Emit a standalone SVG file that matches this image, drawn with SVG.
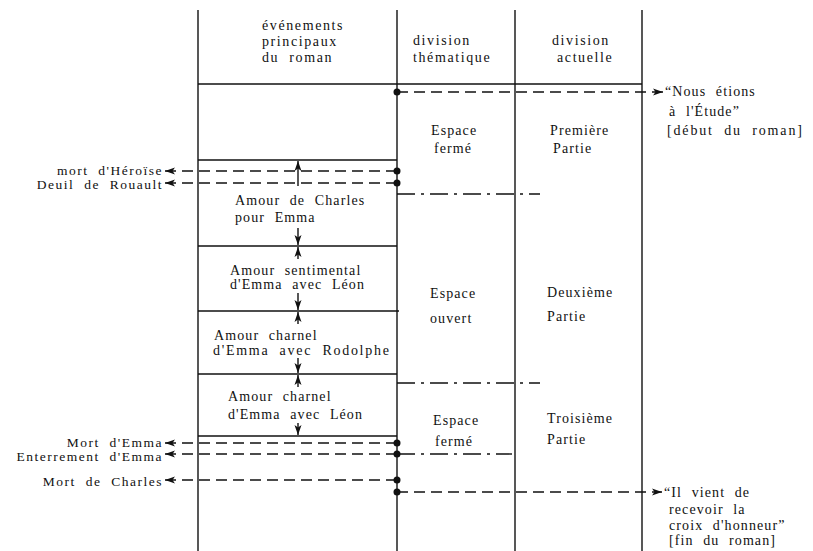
<svg xmlns="http://www.w3.org/2000/svg" width="813" height="551" viewBox="0 0 813 551">
<style>
text{font-family:"Liberation Serif","DejaVu Serif",serif;font-size:14px;fill:#111;word-spacing:5px;letter-spacing:1.1px}
.hd{letter-spacing:1.6px}
.lbl{font-size:13.5px;letter-spacing:1.5px;text-anchor:end}
.rule{stroke:#111;stroke-width:1.4;fill:none}
.dash{stroke:#111;stroke-width:1.4;fill:none;stroke-dasharray:11 6}
.dashdot{stroke:#111;stroke-width:1.4;fill:none;stroke-dasharray:18 6 3 6}
.dot{fill:#111}
</style>
<defs>
<marker id="ah" viewBox="0 0 10 10" refX="10" refY="5" markerWidth="10" markerHeight="10" markerUnits="userSpaceOnUse" orient="auto">
<path d="M0,1.5 L10,5 L0,8.5 L2.5,5 Z" fill="#111"/>
</marker>
</defs>

<g id="table">
<line class="rule" x1="198" y1="10" x2="198" y2="551"/>
<line class="rule" x1="397" y1="10" x2="397" y2="551"/>
<line class="rule" x1="515" y1="10" x2="515" y2="551"/>
<line class="rule" x1="642" y1="10" x2="642" y2="551"/>
<line class="rule" x1="198" y1="84" x2="642" y2="84"/>
</g>

<g id="header">
<text class="hd" x="262" y="30">événements</text>
<text class="hd" x="262" y="46">principaux</text>
<text class="hd" x="262" y="62">du roman</text>
<text class="hd" x="413" y="45">division</text>
<text class="hd" x="413" y="62">thématique</text>
<text class="hd" x="552" y="45">division</text>
<text class="hd" x="557" y="62">actuelle</text>
</g>

<g id="ev-charles">
<line class="rule" x1="198" y1="160" x2="397" y2="160"/>
<text x="235" y="205">Amour de Charles</text>
<text x="235" y="222">pour Emma</text>
</g>
<g id="ev-sentimental">
<line class="rule" x1="198" y1="246" x2="397" y2="246"/>
<text x="230" y="275">Amour sentimental</text>
<text x="230" y="289">d'Emma avec Léon</text>
</g>
<g id="ev-rodolphe">
<line class="rule" x1="198" y1="311" x2="399" y2="311"/>
<text x="214" y="340">Amour charnel</text>
<text x="213" y="355" textLength="177">d'Emma avec Rodolphe</text>
</g>
<g id="ev-leon">
<line class="rule" x1="198" y1="374" x2="397" y2="374"/>
<text x="228" y="401">Amour charnel</text>
<text x="228" y="419">d'Emma avec Léon</text>
<line class="rule" x1="198" y1="436" x2="397" y2="436"/>
</g>

<g id="theme">
<text x="431" y="135">Espace</text>
<text x="434" y="153">fermé</text>
<text x="430" y="298">Espace</text>
<text x="430" y="323">ouvert</text>
<text x="433" y="425">Espace</text>
<text x="435" y="446">fermé</text>
</g>
<g id="parts">
<text x="550" y="135">Première</text>
<text x="553" y="153">Partie</text>
<text x="547" y="297">Deuxième</text>
<text x="547" y="321">Partie</text>
<text x="547" y="423">Troisième</text>
<text x="547" y="444">Partie</text>
</g>

<g id="left-labels">
<text class="lbl" x="163" y="175">mort d'Héroïse</text>
<text class="lbl" x="163" y="189">Deuil de Rouault</text>
<text class="lbl" x="163" y="447">Mort d'Emma</text>
<text class="lbl" x="163" y="461">Enterrement d'Emma</text>
<text class="lbl" x="163" y="486">Mort de Charles</text>
</g>

<g id="right-labels">
<text x="665" y="96">“Nous étions</text>
<text x="669" y="116">à l'Étude”</text>
<text x="667" y="135" textLength="136">[début du roman]</text>
<text x="664" y="497">“Il vient de</text>
<text x="669" y="514">recevoir la</text>
<text x="669" y="530">croix d'honneur”</text>
<text x="669" y="545">[fin du roman]</text>
</g>

<g id="connectors">
<line class="dash" x1="397" y1="92" x2="663" y2="92" marker-end="url(#ah)"/>
<line class="dash" x1="397" y1="171" x2="165" y2="171" marker-end="url(#ah)"/>
<line class="dash" x1="397" y1="183" x2="165" y2="183" marker-end="url(#ah)"/>
<line class="dashdot" x1="397" y1="194" x2="540" y2="194"/>
<line class="dashdot" x1="397" y1="383" x2="540" y2="383"/>
<line class="dash" x1="397" y1="443" x2="165" y2="443" marker-end="url(#ah)"/>
<line class="dash" x1="397" y1="454" x2="165" y2="454" marker-end="url(#ah)"/>
<line class="dashdot" x1="397" y1="454" x2="512" y2="454"/>
<line class="dash" x1="397" y1="480" x2="165" y2="480" marker-end="url(#ah)"/>
<line class="dash" x1="397" y1="492" x2="662" y2="492" marker-end="url(#ah)"/>
<circle class="dot" cx="397" cy="92" r="3.5"/>
<circle class="dot" cx="397" cy="171" r="3.5"/>
<circle class="dot" cx="397" cy="183" r="3.5"/>
<circle class="dot" cx="397" cy="443" r="3.5"/>
<circle class="dot" cx="397" cy="454" r="3.5"/>
<circle class="dot" cx="397" cy="480" r="3.5"/>
<circle class="dot" cx="397" cy="492" r="3.5"/>
<line class="rule" x1="298" y1="186" x2="298" y2="161" marker-end="url(#ah)"/>
<line class="rule" x1="298" y1="228" x2="298" y2="245" marker-end="url(#ah)"/>
<line class="rule" x1="298" y1="259" x2="298" y2="247" marker-end="url(#ah)"/>
<line class="rule" x1="298" y1="293" x2="298" y2="310" marker-end="url(#ah)"/>
<line class="rule" x1="298" y1="324" x2="298" y2="312" marker-end="url(#ah)"/>
<line class="rule" x1="298" y1="358" x2="298" y2="373" marker-end="url(#ah)"/>
<line class="rule" x1="298" y1="387" x2="298" y2="375" marker-end="url(#ah)"/>
<line class="rule" x1="298" y1="423" x2="298" y2="435" marker-end="url(#ah)"/>
</g>
</svg>
